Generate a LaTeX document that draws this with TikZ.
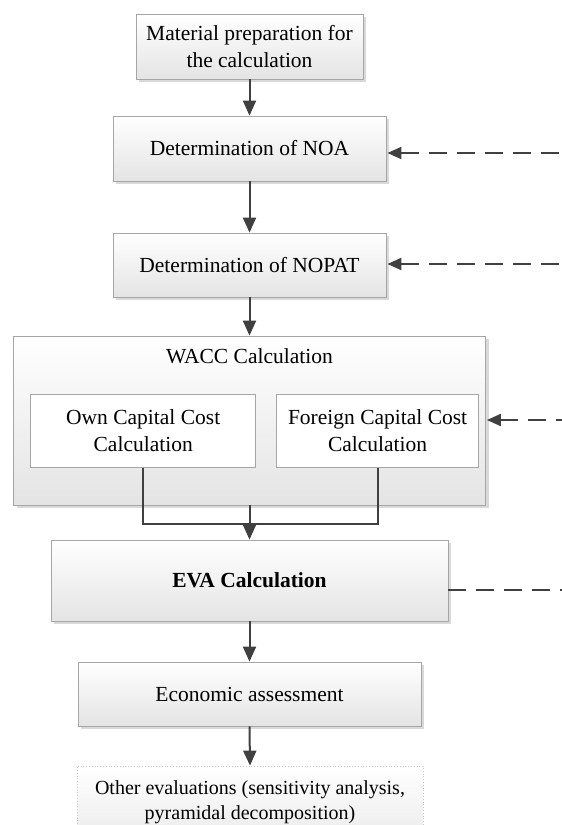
\documentclass[tikz,border=0pt]{standalone}
\usepackage{fontspec}
\setmainfont{Liberation Serif}
\usetikzlibrary{arrows.meta,shadows}
\definecolor{bord}{HTML}{A6A6A6}
\definecolor{conn}{HTML}{404040}
\definecolor{fillb}{HTML}{E4E4E4}
\definecolor{dotb}{HTML}{C8C8C8}
\begin{document}
\begin{tikzpicture}[x=1pt,y=-1pt,
  box/.style={draw=bord, line width=0.8pt, top color=white, bottom color=fillb,
    drop shadow={opacity=0.3,shadow xshift=3pt,shadow yshift=-3pt},
    align=center, inner sep=0pt, font=\fontsize{21.5}{27}\selectfont},
  inbox/.style={draw=bord, line width=0.8pt, fill=white, align=center, inner sep=0pt,
    font=\fontsize{21.5}{27}\selectfont},
  otherbox/.style={draw=dotb, dotted, line width=0.8pt, top color=white, bottom color=fillb!60,
    inner sep=0pt},
  othertext/.style={align=center, inner sep=0pt, font=\fontsize{20}{25}\selectfont},
  arr/.style={draw=conn, line width=2pt, -{Triangle[length=15pt,width=13pt]}},
  conline/.style={draw=conn, line width=2pt},
  fbarr/.style={draw=conn, line width=2pt, dash pattern=on 18pt off 10pt,
    {Triangle[length=14pt,width=12pt]}-, shorten <=1pt},
  fbline/.style={draw=conn, line width=2pt, dash pattern=on 18pt off 10pt}
]
\useasboundingbox (0,0) rectangle (562,825);

\node[box, minimum width=227pt, minimum height=65pt] (mat) at (249.5,46.5)
  {Material preparation for\\the calculation};
\node[box, minimum width=273pt, minimum height=65pt] (noa) at (249.5,148.5)
  {Determination of NOA};
\node[box, minimum width=273pt, minimum height=64pt] (nopat) at (249.5,265)
  {Determination of NOPAT};
\node[box, minimum width=472pt, minimum height=169pt] (wacc) at (249.5,420.5) {};
\node[font=\fontsize{21.5}{27}\selectfont] (wacct) at (249.5,356) {WACC Calculation};
\node[inbox, minimum width=225pt, minimum height=73pt] (own) at (143.2,431)
  {Own Capital Cost\\Calculation};
\node[inbox, minimum width=202pt, minimum height=73pt] (foreign) at (377.6,431)
  {Foreign Capital Cost\\Calculation};
\node[box, minimum width=397pt, minimum height=81pt] (eva) at (249.5,580.5)
  {\textbf{EVA Calculation}};
\node[box, minimum width=343pt, minimum height=64pt] (econ) at (249.5,694)
  {Economic assessment};
\node[otherbox, minimum width=346pt, minimum height=60pt] (other) at (250,796) {};
\node[othertext] (othert) at (250,802)
  {Other evaluations (sensitivity analysis,\\pyramidal decomposition)};

\coordinate (jn) at (249.5,524);
\coordinate (fb1) at (562,153);
\coordinate (fb2) at (562,264);
\coordinate (fb3) at (562,420);
\coordinate (fb4) at (562,590);

\draw[arr] (mat.south) -- (noa.north);
\draw[arr] (noa.south) -- (nopat.north);
\draw[arr] (nopat.south) -- (wacc.north);
\draw[conline] (own.south) |- (jn) -| (foreign.south);
\draw[arr] (wacc.south) -- (eva.north);
\draw[arr] (eva.south) -- (econ.north);
\draw[arr] (econ.south) -- (other.north);

\draw[fbarr] (fb1 -| noa.east) -- (fb1);
\draw[fbarr] (fb2 -| nopat.east) -- (fb2);
\draw[fbarr] (fb3 -| wacc.east) -- (fb3);
\draw[fbline] (fb4 -| eva.east) -- (fb4);
\end{tikzpicture}
\end{document}
